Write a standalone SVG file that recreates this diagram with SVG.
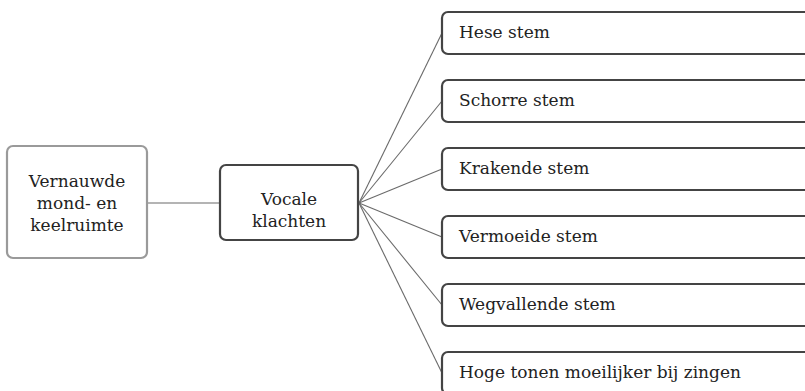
<svg xmlns="http://www.w3.org/2000/svg" width="805" height="391" viewBox="0 0 805 391">
<style>
.box{fill:#fff;stroke:#444;stroke-width:2.2}
.lbox{fill:#fff;stroke:#9a9a9a;stroke-width:2.2}
.conn{stroke:#6a6a6a;stroke-width:1.1;fill:none}
.t{font-size:17px;fill:#222}
.c{text-anchor:middle}
</style>
<rect width="805" height="391" fill="#fff"/>
<g id="connectors">
<line class="conn" x1="147" y1="203" x2="220" y2="203"/>
<line class="conn" x1="359" y1="203" x2="442" y2="33"/>
<line class="conn" x1="359" y1="203" x2="442" y2="101"/>
<line class="conn" x1="359" y1="203" x2="442" y2="169"/>
<line class="conn" x1="359" y1="203" x2="442" y2="237"/>
<line class="conn" x1="359" y1="203" x2="442" y2="305"/>
<line class="conn" x1="359" y1="203" x2="442" y2="373"/>
</g>
<g font-family="'DejaVu Serif', serif" class="t">
<g id="n-vernauwde">
<rect class="lbox" x="7" y="146" width="140" height="112" rx="6"/>
<text class="c" x="77" y="187">Vernauwde</text>
<text class="c" x="77" y="209">mond- en</text>
<text class="c" x="77" y="231">keelruimte</text>
</g>
<g id="n-vocale">
<rect class="box" x="220" y="165" width="138" height="75" rx="6"/>
<text class="c" x="289" y="205">Vocale</text>
<text class="c" x="289" y="227">klachten</text>
</g>
<g id="n-hese">
<rect class="box" x="442" y="12" width="380" height="42" rx="6"/>
<text x="459" y="38">Hese stem</text>
</g>
<g id="n-schorre">
<rect class="box" x="442" y="80" width="380" height="42" rx="6"/>
<text x="459" y="106">Schorre stem</text>
</g>
<g id="n-krakende">
<rect class="box" x="442" y="148" width="380" height="42" rx="6"/>
<text x="459" y="174">Krakende stem</text>
</g>
<g id="n-vermoeide">
<rect class="box" x="442" y="216" width="380" height="42" rx="6"/>
<text x="459" y="242">Vermoeide stem</text>
</g>
<g id="n-wegvallende">
<rect class="box" x="442" y="284" width="380" height="42" rx="6"/>
<text x="459" y="310">Wegvallende stem</text>
</g>
<g id="n-hoge">
<rect class="box" x="442" y="352" width="380" height="42" rx="6"/>
<text x="459" y="378">Hoge tonen moeilijker bij zingen</text>
</g>
</g>
</svg>
